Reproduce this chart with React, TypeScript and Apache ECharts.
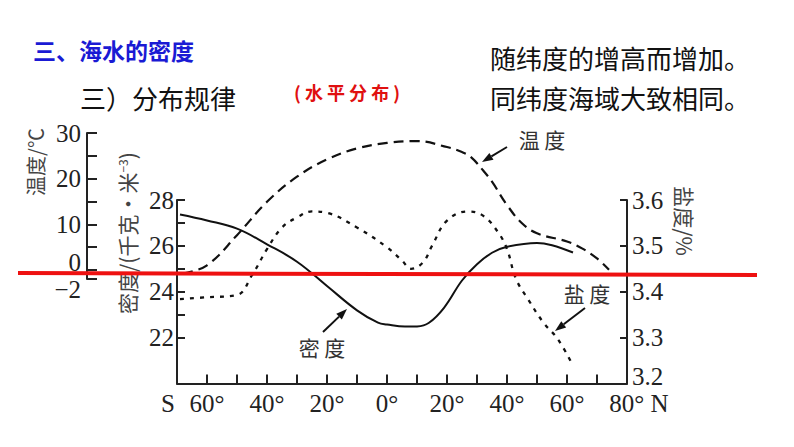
import React, { useEffect, useRef } from "react";
import * as echarts from "echarts";

// ---- data ----
const latTicks = [-60, -50, -40, -30, -20, -10, 0, 10, 20, 30, 40, 50, 60, 70];
const latLabels = [-60, -40, -20, 0, 20, 40, 60, 80];
const tempTicks = [-2, 0, 5, 10, 15, 20, 25, 30];
const tempLabels = [-2, 0, 10, 20, 30];
const densityTicks = [22, 23, 24, 25, 26, 27, 28];
const densityLabels = [22, 24, 26, 28];
const salinityTicks = [3.2, 3.3, 3.4, 3.5, 3.6];

const densityLat = [-69, -60, -50, -40, -30, -20, -10, -3, 0, 6, 10, 14, 19, 25, 30, 35, 40, 50, 55, 62];
const densityVal = [27.37, 27.11, 26.75, 26.07, 25.31, 24.25, 23.19, 22.65, 22.57, 22.48, 22.49, 22.65, 23.3, 24.49, 25.2, 25.7, 25.96, 26.13, 26.03, 25.71];

const tempLat = [-68, -60, -50, -40, -30, -20, -10, 0, 10, 20, 25, 28, 32, 35, 40, 45, 50, 60, 65, 70, 74];
const tempVal = [-0.8, 1.0, 7.6, 14.9, 20.4, 24.2, 26.6, 27.8, 28.2, 26.9, 25.8, 24.7, 21.8, 19.3, 14.2, 10.2, 8.0, 6.2, 4.7, 2.5, 0];

const salLat = [-69, -60, -50, -45, -40, -35, -30, -25, -20, -10, 0, 5, 8, 12, 15, 20, 27, 32, 37, 40, 43, 47, 52, 57, 62];
const salVal = [3.384, 3.388, 3.393, 3.436, 3.493, 3.54, 3.562, 3.575, 3.572, 3.54, 3.497, 3.468, 3.45, 3.464, 3.5, 3.555, 3.575, 3.566, 3.53, 3.493, 3.428, 3.384, 3.334, 3.296, 3.239];

const SERIF = "Liberation Serif, Times New Roman, Times, serif";
const CJK = "Noto Sans CJK SC";
const AX = "#222";

function arrow(x1: number, y1: number, x2: number, y2: number) {
  const dx = x2 - x1, dy = y2 - y1;
  const L = Math.hypot(dx, dy);
  const ux = dx / L, uy = dy / L;
  const bx = x2 - ux * 11, by = y2 - uy * 11;
  const nx = -uy, ny = ux;
  return [
    { type: "line", z: 50, shape: { x1, y1, x2: bx, y2: by }, style: { stroke: "#111", lineWidth: 2 } },
    {
      type: "polygon", z: 50,
      shape: { points: [[x2, y2], [bx + nx * 4, by + ny * 4], [bx - nx * 4, by - ny * 4]] },
      style: { fill: "#111" },
    },
  ];
}

function txt(text: string, x: number, y: number, size: number, family: string, fill: string, extra: any = {}) {
  return {
    type: "text", z: 50, x, y, rotation: extra.rotation || 0,
    style: {
      text, fontSize: size, fontFamily: family, fontWeight: extra.bold ? "bold" : "normal", fill,
      align: extra.align || "left", verticalAlign: "middle", rich: extra.rich,
    },
  };
}

export default function App() {
  const ref = useRef<HTMLDivElement>(null);
  useEffect(() => {
    const chart = echarts.init(ref.current!, null, { renderer: "svg" });
    const lineStyleAx = { color: AX, width: 2 };
    const baseFont = { fontFamily: SERIF, fontSize: 25, color: AX };
    const labelFont = { ...baseFont, lineHeight: 18 };
    const option: any = {
      animation: false,
      backgroundColor: "#fff",
      grid: [
        { left: 177, right: 167, top: 200, height: 183.5 },
        { left: 87, top: 133, width: 2, height: 146 },
      ],
      xAxis: [
        {
          gridIndex: 0, type: "value", min: -70, max: 80, interval: 10,
          axisLine: { show: true, onZero: false, lineStyle: lineStyleAx },
          axisTick: { show: true, inside: true, length: 9, customValues: latTicks, lineStyle: lineStyleAx },
          axisLabel: {
            customValues: latLabels,
            formatter: (v: number) => (v === 80 ? "{pad|}80°{n| N}" : Math.abs(v) + "°"),
            rich: {
              pad: { width: 24, ...labelFont },
              n: { ...labelFont },
            },
            margin: 11, ...labelFont,
          },
          splitLine: { show: false },
        },
        { gridIndex: 1, type: "value", min: 0, max: 1, show: false },
      ],
      yAxis: [
        {
          gridIndex: 0, type: "value", position: "left", min: 20, max: 28, interval: 1,
          axisLine: { show: true, onZero: false, lineStyle: lineStyleAx },
          axisTick: { show: true, inside: true, length: 8, customValues: densityTicks, lineStyle: lineStyleAx },
          axisLabel: { customValues: densityLabels, margin: 3, ...labelFont },
          splitLine: { show: false },
        },
        {
          gridIndex: 0, type: "value", position: "right", min: 3.2, max: 3.6, interval: 0.1,
          axisLine: { show: true, onZero: false, lineStyle: lineStyleAx },
          axisTick: { show: true, inside: true, length: 7, customValues: salinityTicks, lineStyle: lineStyleAx },
          axisLabel: {
            customValues: salinityTicks,
            formatter: (v: number) => (v < 3.25 ? "{u|3.2}" : v.toFixed(1)),
            rich: { u: { ...baseFont, lineHeight: 16, padding: [0, 0, 14, 0] } },
            margin: 5, ...labelFont, lineHeight: 16,
          },
          splitLine: { show: false },
        },
        { gridIndex: 0, type: "value", min: -24.9, max: 15.3, show: false, splitLine: { show: false } },
        {
          gridIndex: 1, type: "value", position: "left", min: -2, max: 30,
          axisLine: { show: true, onZero: false, lineStyle: lineStyleAx },
          axisTick: { show: true, inside: true, length: 10, customValues: tempTicks, lineStyle: lineStyleAx },
          axisLabel: {
            customValues: tempLabels,
            showMinLabel: true,
            formatter: (v: number) => (v === 0 ? "{a|0}" : v === -2 ? "{b|−2}" : String(v)),
            rich: {
              a: { ...baseFont, padding: [0, 0, 14, 0] },
              b: { ...baseFont, padding: [20, 0, 0, 0] },
            },
            margin: 6, ...baseFont,
          },
          splitLine: { show: false },
        },
      ],
      series: [
        {
          name: "密度", type: "line", xAxisIndex: 0, yAxisIndex: 0, smooth: 0.4, symbol: "none", clip: false,
          data: densityLat.map((x, i) => [x, densityVal[i]]),
          lineStyle: { color: "#111", width: 2 },
        },
        {
          name: "盐度", type: "line", xAxisIndex: 0, yAxisIndex: 1, smooth: 0.4, symbol: "none", clip: false,
          data: salLat.map((x, i) => [x, salVal[i]]),
          lineStyle: { color: "#111", width: 2.3, type: [4, 6] },
        },
        {
          name: "温度", type: "line", xAxisIndex: 0, yAxisIndex: 2, smooth: 0.4, symbol: "none", clip: false,
          data: tempLat.map((x, i) => [x, tempVal[i]]),
          lineStyle: { color: "#111", width: 2.2, type: [10, 6] },
        },
      ],
      graphic: [
        txt("三、海水的密度", 33, 50, 23, CJK, "#1a1ad4", { bold: true }),
        txt("三）分布规律", 80, 97, 26, CJK, "#111"),
        txt("( 水 平 分 布 )", 294, 92, 18, CJK, "#e01010", { bold: true }),
        txt("随纬度的增高而增加。", 490, 57, 26, CJK, "#111"),
        txt("同纬度海域大致相同。", 490, 97, 26, CJK, "#111"),
        txt("温度/℃", 35, 162, 20, CJK, "#444", { align: "center", rotation: Math.PI / 2 }),
        txt("密度/(千克·米{s|−3})", 127, 233, 21, CJK, "#444", {
          align: "center", rotation: Math.PI / 2,
          rich: { s: { fontSize: 12, fontFamily: CJK, fill: "#444", padding: [0, 0, 9, 0] } },
        }),
        txt("盐度/%", 685, 221, 21, CJK, "#444", { align: "center", rotation: -Math.PI / 2 }),
        txt("温 度", 542, 139, 21, CJK, "#333", { align: "center" }),
        txt("密 度", 322, 347, 21, CJK, "#333", { align: "center" }),
        txt("盐 度", 587, 293, 21, CJK, "#333", { align: "center" }),
        txt("S", 168, 403, 25, SERIF, AX, { align: "center" }),
        ...arrow(507, 147, 482, 162),
        ...arrow(323, 332, 347, 309),
        ...arrow(585, 308, 555, 331),
        {
          type: "line", z: 100,
          shape: { x1: 18, y1: 273, x2: 757, y2: 275 },
          style: { stroke: "#ee1111", lineWidth: 4 },
        },
      ],
    };
    chart.setOption(option);
    return () => chart.dispose();
  }, []);
  return (
    <div
      ref={ref}
      style={{ position: "fixed", left: 0, top: 0, width: 794, height: 447, background: "#fff" }}
    />
  );
}
